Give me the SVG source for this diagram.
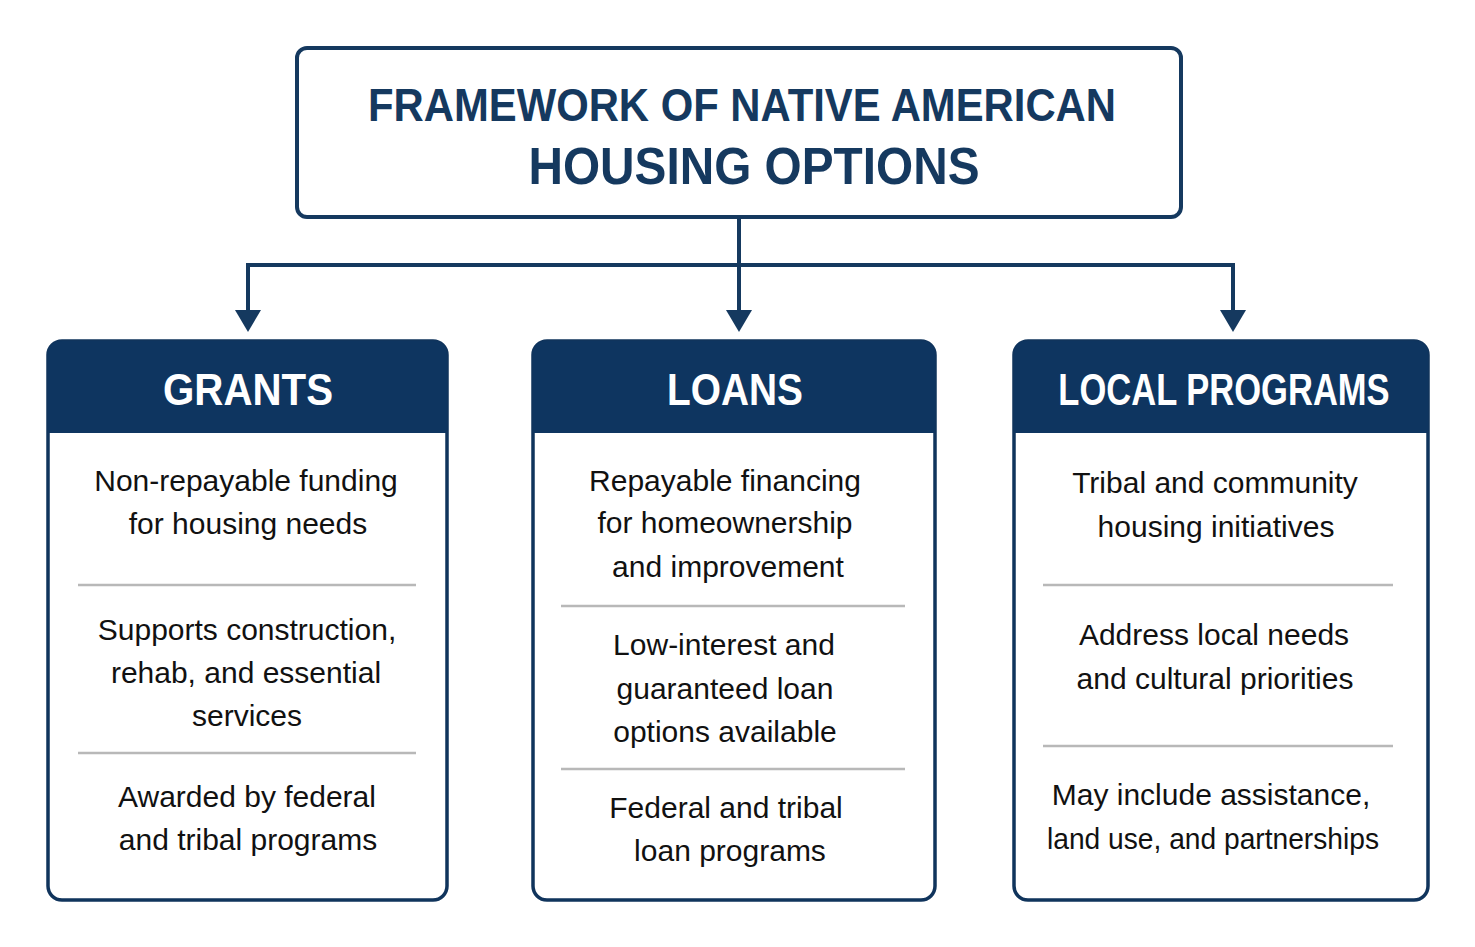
<svg xmlns="http://www.w3.org/2000/svg" width="1475" height="947" viewBox="0 0 1475 947">
<defs>
<style>
.title{font-family:"Liberation Sans",Arial,sans-serif;font-weight:bold;fill:#15395f;text-anchor:middle}
.head{font-family:"Liberation Sans",Arial,sans-serif;font-weight:bold;fill:#ffffff;font-size:44px;text-anchor:middle}
.body{font-family:"Liberation Sans",Arial,sans-serif;fill:#111111;font-size:30px;text-anchor:middle}
.card{fill:#ffffff;stroke:#10345c;stroke-width:3.5}
.hdr{fill:#0e3560}
.div{stroke:#b8b8b8;stroke-width:2.5}
.conn{stroke:#15395f;stroke-width:4;fill:none}
.head-arrow{fill:#15395f}
</style>
</defs>
<rect width="1475" height="947" fill="#ffffff"/>
<g id="title">
<rect x="297" y="48" width="884" height="169" rx="10" fill="#ffffff" stroke="#15395f" stroke-width="4"/>
<text class="title" x="742" y="121" font-size="47" textLength="748" lengthAdjust="spacingAndGlyphs">FRAMEWORK OF NATIVE AMERICAN</text>
<text class="title" x="754" y="184" font-size="51" textLength="451" lengthAdjust="spacingAndGlyphs">HOUSING OPTIONS</text>
</g>
<g id="connectors">
<path class="conn" d="M739,218 V312"/>
<path class="conn" d="M248,312 V265 H1233 V312"/>
<path class="head-arrow" d="M726,310 L752,310 L739,332 Z"/>
<path class="head-arrow" d="M235,310 L261,310 L248,332 Z"/>
<path class="head-arrow" d="M1220,310 L1246,310 L1233,332 Z"/>
</g>
<g id="grants">
<rect class="card" x="48" y="341" width="399" height="559" rx="14"/>
<path class="hdr" d="M62,341 H433 Q447,341 447,355 V433 H48 V355 Q48,341 62,341 Z"/>
<text class="head" x="248" y="405" textLength="170" lengthAdjust="spacingAndGlyphs">GRANTS</text>
<text class="body" x="246" y="491">Non-repayable funding</text>
<text class="body" x="248" y="534">for housing needs</text>
<line class="div" x1="78" y1="585" x2="416" y2="585"/>
<text class="body" x="247" y="640">Supports construction,</text>
<text class="body" x="246" y="683">rehab, and essential</text>
<text class="body" x="247" y="726">services</text>
<line class="div" x1="78" y1="753" x2="416" y2="753"/>
<text class="body" x="247" y="807">Awarded by federal</text>
<text class="body" x="248" y="850">and tribal programs</text>
</g>
<g id="loans">
<rect class="card" x="533" y="341" width="402" height="559" rx="14"/>
<path class="hdr" d="M547,341 H921 Q935,341 935,355 V433 H533 V355 Q533,341 547,341 Z"/>
<text class="head" x="735" y="405" textLength="136" lengthAdjust="spacingAndGlyphs">LOANS</text>
<text class="body" x="725" y="491">Repayable financing</text>
<text class="body" x="725" y="533">for homeownership</text>
<text class="body" x="728" y="577">and improvement</text>
<line class="div" x1="561" y1="606" x2="905" y2="606"/>
<text class="body" x="724" y="655">Low-interest and</text>
<text class="body" x="725" y="699">guaranteed loan</text>
<text class="body" x="725" y="742">options available</text>
<line class="div" x1="561" y1="769" x2="905" y2="769"/>
<text class="body" x="726" y="818">Federal and tribal</text>
<text class="body" x="730" y="861">loan programs</text>
</g>
<g id="local">
<rect class="card" x="1014" y="341" width="414" height="559" rx="14"/>
<path class="hdr" d="M1028,341 H1414 Q1428,341 1428,355 V433 H1014 V355 Q1014,341 1028,341 Z"/>
<text class="head" transform="translate(1224,405) scale(0.785,1)" x="0" y="0">LOCAL PROGRAMS</text>
<text class="body" x="1215" y="493">Tribal and community</text>
<text class="body" x="1216" y="537">housing initiatives</text>
<line class="div" x1="1043" y1="585" x2="1393" y2="585"/>
<text class="body" x="1214" y="645">Address local needs</text>
<text class="body" x="1215" y="689">and cultural priorities</text>
<line class="div" x1="1043" y1="746" x2="1393" y2="746"/>
<text class="body" x="1211" y="805">May include assistance,</text>
<text class="body" x="1213" y="849" textLength="332" lengthAdjust="spacingAndGlyphs">land use, and partnerships</text>
</g>
</svg>
